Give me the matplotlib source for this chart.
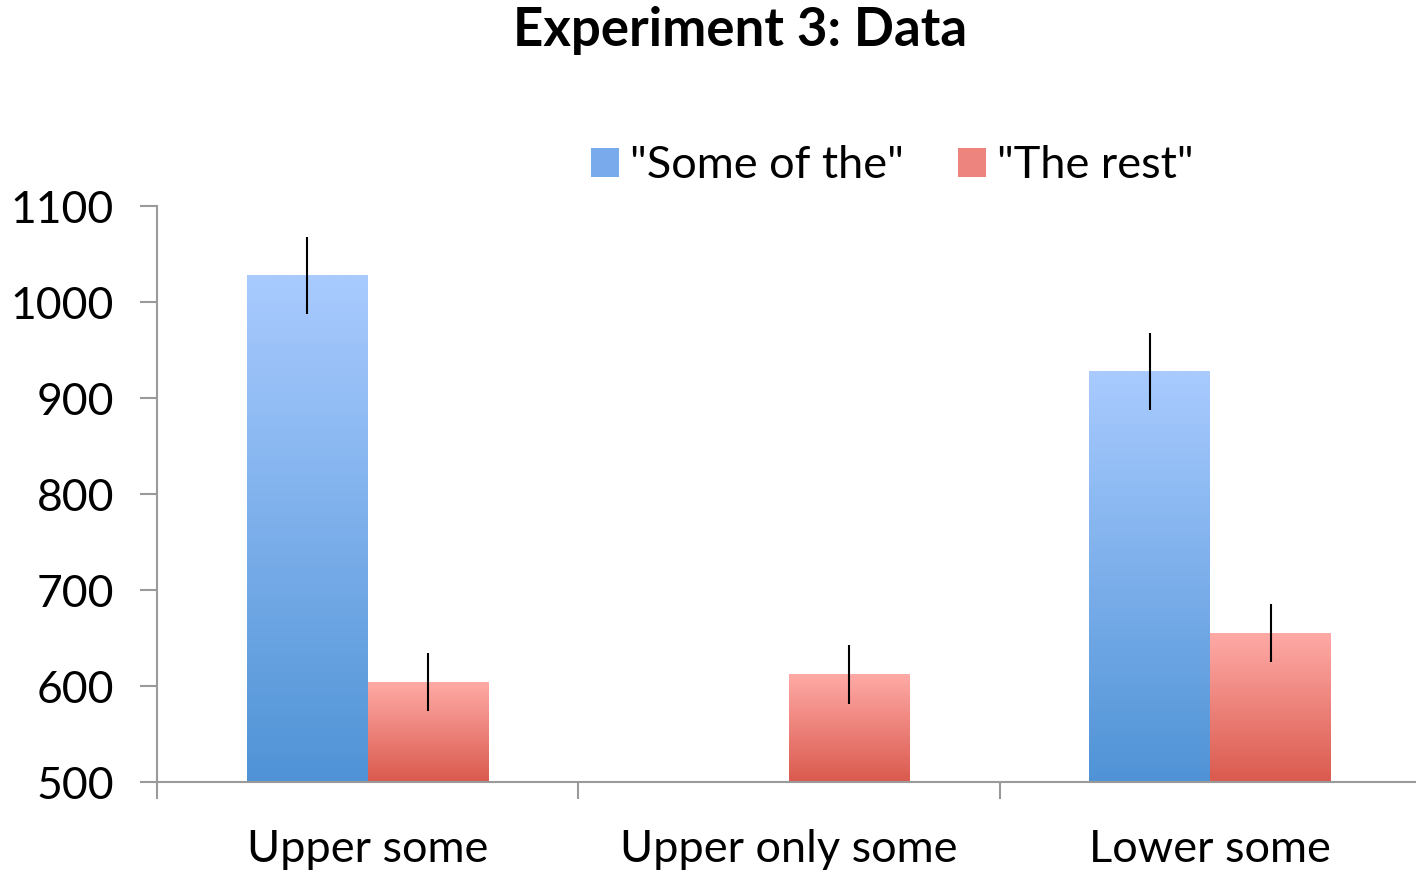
import numpy as np
import matplotlib.pyplot as plt
from matplotlib.colors import LinearSegmentedColormap
from matplotlib.patches import Patch

plt.rcParams['font.family'] = ['Lato', 'DejaVu Sans']

# data
categories = ['Upper some', 'Upper only some', 'Lower some']
some_of_the = [1028, np.nan, 928]
some_err = [40, np.nan, 40]
the_rest = [604, 612, 655]
rest_err = [30, 31, 30]
series_names = ['"Some of the"', '"The rest"']

blue_top, blue_bot = '#a9cbff', '#4f93d6'
red_top, red_bot = '#ffaaa6', '#da5a4e'

fig = plt.figure(figsize=(14.16, 8.73), dpi=100)
ax = fig.add_axes([0.1109, 0.1042, 0.8926, 0.6598])

x = np.arange(len(categories))
w = 0.287

bars1 = ax.bar(x - w / 2, some_of_the, w, color='none')
bars2 = ax.bar(x + w / 2, the_rest, w, color='none')


def fill_gradient(bars, top, bot):
    cmap = LinearSegmentedColormap.from_list('g', [bot, top])
    grad = np.linspace(0, 1, 256).reshape(-1, 1)
    for b in bars:
        h = b.get_height()
        if np.isnan(h):
            continue
        x0 = b.get_x()
        ax.imshow(grad, cmap=cmap, aspect='auto', origin='lower',
                  extent=(x0, x0 + b.get_width(), 500, h), zorder=2)


fill_gradient(bars1, blue_top, blue_bot)
fill_gradient(bars2, red_top, red_bot)
ax.set_xlim(-0.5, 2.5)
ax.set_ylim(500, 1100)

ax.errorbar(x - w / 2, some_of_the, yerr=some_err, fmt='none',
            ecolor='black', elinewidth=1.5, capsize=0, zorder=3)
ax.errorbar(x + w / 2, the_rest, yerr=rest_err, fmt='none',
            ecolor='black', elinewidth=1.5, capsize=0, zorder=3)

for s in ['top', 'right']:
    ax.spines[s].set_visible(False)
for s in ['left', 'bottom']:
    ax.spines[s].set_color('#9a9a9a')
    ax.spines[s].set_linewidth(1.5)

ax.set_yticks(range(500, 1101, 100))
ax.tick_params(axis='y', length=12, width=1.5, color='#9a9a9a',
               labelsize=32, pad=19)
ax.set_xticks(x)
ax.set_xticklabels(categories)
ax.set_xticks([-0.5, 0.5, 1.5, 2.5], minor=True)
ax.tick_params(axis='x', which='major', length=0, labelsize=32.5, pad=34)
ax.tick_params(axis='x', which='minor', length=12, width=1.5, color='#9a9a9a')

fig.text(0.5225, 0.965, 'Experiment 3: Data', ha='center', va='center',
         fontsize=38, fontweight='bold')

handles = [Patch(facecolor='#79abec', edgecolor='none'),
           Patch(facecolor='#ee847e', edgecolor='none')]
fig.legend(handles, series_names, loc='center', bbox_to_anchor=(0.6303, 0.81),
           ncol=2, frameon=False, fontsize=32.5, handlelength=0.62,
           handleheight=0.62, handletextpad=0.25, columnspacing=1.2)

fig.savefig('out.png', dpi=100)
